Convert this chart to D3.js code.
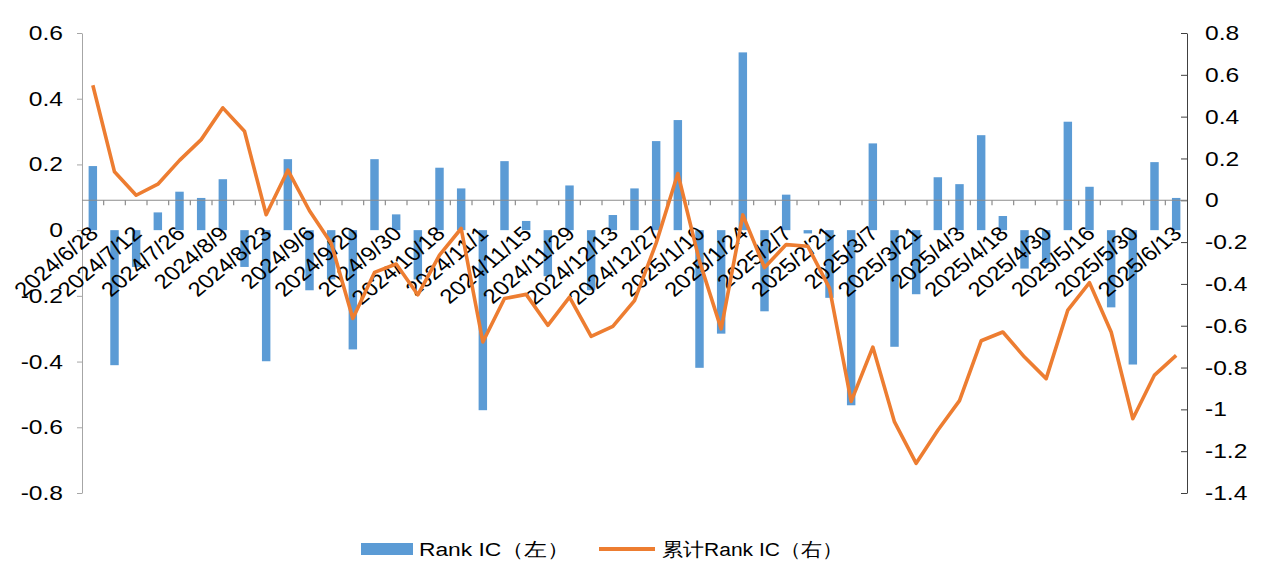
<!DOCTYPE html>
<html>
<head>
    <meta charset="utf-8">
    <title>Rank IC</title>
    <script src="https://cdn.jsdelivr.net/npm/d3@7"></script>
    <style>
        body { margin: 0; background: #fff; }
        text { font-family: Arial, "Liberation Sans", sans-serif; fill: #000; }
    </style>
</head>
<body>
<svg width="1269" height="573" id="mainsvg"></svg>
<script>
    // weekly dates (only every second one is labelled)
    const dates = ['2024/6/28', '2024/7/5', '2024/7/12', '2024/7/19', '2024/7/26', '2024/8/2', '2024/8/9', '2024/8/16',
        '2024/8/23', '2024/8/30', '2024/9/6', '2024/9/13', '2024/9/20', '2024/9/27', '2024/9/30', '2024/10/11',
        '2024/10/18', '2024/10/25', '2024/11/1', '2024/11/8', '2024/11/15', '2024/11/22', '2024/11/29', '2024/12/6',
        '2024/12/13', '2024/12/20', '2024/12/27', '2025/1/3', '2025/1/10', '2025/1/17', '2025/1/24', '2025/1/27',
        '2025/2/7', '2025/2/14', '2025/2/21', '2025/2/28', '2025/3/7', '2025/3/14', '2025/3/21', '2025/3/28',
        '2025/4/3', '2025/4/11', '2025/4/18', '2025/4/25', '2025/4/30', '2025/5/9', '2025/5/16', '2025/5/23',
        '2025/5/30', '2025/6/6', '2025/6/13'];
    // Rank IC (left axis)
    const rankIC = [0.195, -0.411, -0.112, 0.054, 0.117, 0.098, 0.155, -0.112, -0.399, 0.216, -0.183, -0.150, -0.363,
        0.216, 0.048, -0.150, 0.190, 0.127, -0.548, 0.210, 0.028, -0.140, 0.136, -0.183, 0.046, 0.127,
        0.271, 0.335, -0.419, -0.315, 0.541, -0.247, 0.108, -0.010, -0.206, -0.533, 0.264, -0.355,
        -0.195, 0.161, 0.140, 0.289, 0.043, -0.117, -0.100, 0.330, 0.132, -0.235, -0.409, 0.207, 0.098];
    // cumulative Rank IC (right axis)
    const cumIC = [0.550, 0.136, 0.024, 0.077, 0.191, 0.290, 0.442, 0.330, -0.069, 0.144, -0.050, -0.205, -0.565,
        -0.345, -0.305, -0.452, -0.262, -0.135, -0.678, -0.470, -0.450, -0.598, -0.463, -0.651, -0.603, -0.480,
        -0.205, 0.128, -0.291, -0.615, -0.070, -0.322, -0.212, -0.220, -0.420, -0.962, -0.702, -1.060,
        -1.258, -1.100, -0.958, -0.672, -0.630, -0.750, -0.853, -0.525, -0.394, -0.630, -1.045, -0.836, -0.742];
    const leftTicks = [-0.8, -0.6, -0.4, -0.2, 0, 0.2, 0.4, 0.6];
    const rightTicks = [-1.4, -1.2, -1, -0.8, -0.6, -0.4, -0.2, 0, 0.2, 0.4, 0.6, 0.8];
    const legendNames = ['Rank IC（左）', '累计Rank IC（右）'];

    const svg = d3.select('svg');
    const SX = 1.2;            // the source picture is stretched sideways
    const mLeft = 82, mRight = 1187, mTop = 33, mBottom = 493;
    const BLUE = '#5b9bd5', ORANGE = '#ed7d31';

    const x = d3.scaleBand().domain(dates).range([mLeft, mRight]).paddingInner(0.61).paddingOuter(0.305);
    const step = x.step();
    const cx = d => x(d) + x.bandwidth() / 2;
    const yL = d3.scaleLinear().domain([-0.8, 0.6]).range([mBottom, mTop]);
    const yR = d3.scaleLinear().domain([-1.4, 0.8]).range([mBottom, mTop]);
    const fmt = d => String(+d.toFixed(1));

    const stretch = (sel, dx) => sel.selectAll('text').attr('x', 0)
        .attr('transform', `translate(${dx},0) scale(${SX},1)`);

    // left axis
    const gl = svg.append('g').attr('transform', `translate(${mLeft},0)`)
        .call(d3.axisLeft(yL).tickValues(leftTicks).tickFormat(fmt).tickSize(5).tickSizeOuter(0));
    gl.select('.domain').attr('stroke', '#a6a6a6');
    gl.selectAll('.tick line').attr('stroke', '#a6a6a6');
    gl.selectAll('text').attr('font-size', 20.5).attr('font-family', 'Arial, Liberation Sans');
    stretch(gl, -19);

    // right axis
    const gr = svg.append('g').attr('transform', `translate(${mRight},0)`)
        .call(d3.axisRight(yR).tickValues(rightTicks).tickFormat(fmt).tickSize(-6).tickSizeOuter(0));
    gr.select('.domain').attr('stroke', '#404040');
    gr.selectAll('.tick line').attr('stroke', '#404040');
    gr.selectAll('text').attr('font-size', 20.5).attr('font-family', 'Arial, Liberation Sans');
    stretch(gr, 18);

    // bars
    svg.selectAll('.bar').data(dates).join('rect').attr('class', 'bar')
        .attr('x', d => x(d))
        .attr('width', x.bandwidth())
        .attr('y', (d, i) => Math.min(yL(rankIC[i]), yL(0)))
        .attr('height', (d, i) => Math.abs(yL(rankIC[i]) - yL(0)))
        .attr('fill', BLUE);

    // category axis sits on the right-hand zero
    const y0 = yR(0);
    svg.append('line').attr('x1', mLeft).attr('x2', mRight).attr('y1', y0).attr('y2', y0)
        .attr('stroke', '#8c8c8c').attr('stroke-width', 1.2);
    svg.selectAll('.xtick').data(dates.slice(1)).join('line').attr('class', 'xtick')
        .attr('x1', d => cx(d) - step / 2).attr('x2', d => cx(d) - step / 2)
        .attr('y1', y0).attr('y2', y0 + 5)
        .attr('stroke', '#8c8c8c').attr('stroke-width', 1.2);

    // date labels, every second week
    svg.selectAll('.xlab').data(dates.filter((d, i) => i % 2 === 0)).join('text').attr('class', 'xlab')
        .attr('transform', d => `translate(${cx(d) + 1},${230}) scale(${SX},1) rotate(-45)`)
        .attr('text-anchor', 'end').attr('dy', '0.35em')
        .attr('font-size', 20)
        .text(d => d);

    // cumulative line
    const line = d3.line().x((d, i) => cx(dates[i])).y(d => yR(d));
    svg.append('path').datum(cumIC).attr('d', line)
        .attr('fill', 'none').attr('stroke', ORANGE).attr('stroke-width', 3.6)
        .attr('stroke-linejoin', 'round');

    // legend
    const lg = svg.append('g');
    lg.append('rect').attr('x', 361).attr('y', 543).attr('width', 52).attr('height', 12).attr('fill', BLUE);
    lg.append('text').attr('transform', `translate(419,549) scale(${SX},1)`).attr('dy', '0.35em')
        .attr('font-size', 19)
        .text(legendNames[0]);
    lg.append('line').attr('x1', 599).attr('x2', 655).attr('y1', 549).attr('y2', 549)
        .attr('stroke', ORANGE).attr('stroke-width', 4);
    lg.append('text').attr('transform', `translate(662,549) scale(${SX},1)`).attr('dy', '0.35em')
        .attr('font-size', 19).attr('textLength', 181 / SX).attr('lengthAdjust', 'spacingAndGlyphs')
        .text(legendNames[1]);
</script>
</body>
</html>
